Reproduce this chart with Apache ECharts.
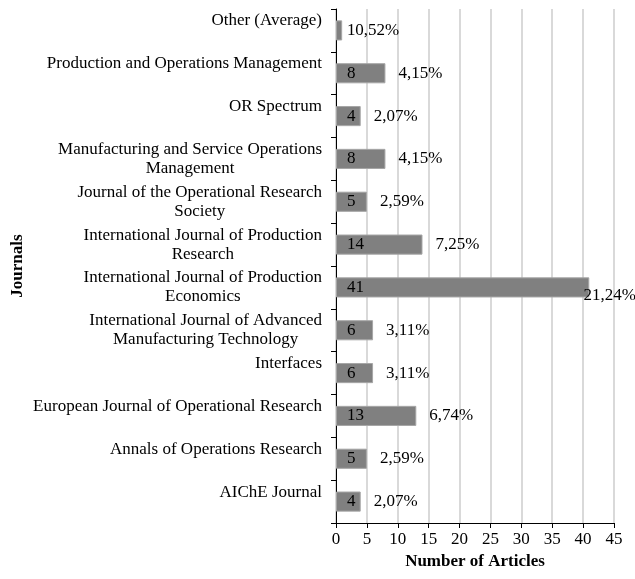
<!DOCTYPE html>
<html>
<head>
<meta charset="utf-8">
<script src="https://cdn.jsdelivr.net/npm/echarts@6/dist/echarts.min.js"></script>
<style>
  html, body { margin: 0; padding: 0; background: #fff; }
  #chart { width: 635px; height: 579px; }
</style>
</head>
<body>
<div id="chart"></div>
<script>
// journals, bottom to top (category axis starts at the bottom)
const journals = [
  'AIChE Journal',
  'Annals of Operations Research',
  'European Journal of Operational Research',
  'Interfaces',
  'International Journal of Advanced\nManufacturing Technology',
  'International Journal of Production\nEconomics',
  'International Journal of Production\nResearch',
  'Journal of the Operational Research\nSociety',
  'Manufacturing and Service Operations\nManagement',
  'OR Spectrum',
  'Production and Operations Management',
  'Other (Average)'
]
const articles = [4, 5, 13, 6, 6, 41, 14, 5, 8, 4, 8, 1]
const shares = ['2,07%', '2,59%', '6,74%', '3,11%', '3,11%', '21,24%', '7,25%', '2,59%', '4,15%', '2,07%', '4,15%', '0,52%']

const chart = echarts.init(document.getElementById('chart'))
const font = 'Liberation Serif'

const option = {
  backgroundColor: '#fff',
  animation: false,
  textStyle: { fontFamily: font },
  grid: { left: 336, right: 21, top: 9, bottom: 56 },
  xAxis: {
    type: 'value',
    min: 0,
    max: 45,
    interval: 5,
    name: 'Number of Articles',
    nameLocation: 'middle',
    nameGap: 30,
    nameTextStyle: { fontFamily: font, fontSize: 17, fontWeight: 'bold', color: '#000' },
    axisLine: { show: true, lineStyle: { color: '#000', width: 1 } },
    axisTick: { show: true, length: 5, lineStyle: { color: '#000' } },
    axisLabel: { fontFamily: font, fontSize: 17, color: '#000', margin: 8 },
    splitLine: { show: true, lineStyle: { color: '#d9d9d9', width: 2 } }
  },
  yAxis: {
    type: 'category',
    data: journals,
    name: 'Journals',
    nameLocation: 'middle',
    nameGap: 310,
    nameRotate: 90,
    nameTextStyle: { fontFamily: font, fontSize: 17, fontWeight: 'bold', color: '#000' },
    axisLine: { show: true, lineStyle: { color: '#000', width: 1 } },
    axisTick: { show: true, length: 5, lineStyle: { color: '#000' } },
    axisLabel: {
      fontFamily: font,
      fontSize: 17,
      color: '#000',
      margin: 14,
      lineHeight: 19,
      // lines centred within the block; single-line names sit on the upper line
      formatter: (v) => {
        const lines = v.split('\n')
        if (lines.length === 1) lines.push(' ')
        return lines.map(l => '{c|' + l + '}').join('\n')
      },
      rich: {
        c: { align: 'center', fontFamily: font, fontSize: 17, color: '#000', lineHeight: 19 }
      }
    }
  },
  series: [
    {
      name: 'Articles',
      type: 'bar',
      data: articles,
      barWidth: '47%',
      itemStyle: { color: '#808080', borderColor: '#a6a6a6', borderWidth: 1 },
      label: {
        show: true,
        position: 'insideLeft',
        distance: 11,
        fontFamily: font,
        fontSize: 17,
        color: '#000'
      },
      z: 2
    },
    {
      name: 'Share',
      type: 'bar',
      data: articles,
      barWidth: '47%',
      barGap: '-100%',
      itemStyle: { color: 'transparent' },
      label: {
        show: true,
        position: 'right',
        distance: 13,
        fontFamily: font,
        fontSize: 17,
        color: '#000',
        formatter: (p) => shares[p.dataIndex]
      },
      labelLayout: (params) => {
        const r = params.labelRect
        if (r.x + r.width > 636) return { x: 636 - r.width }
        return {}
      },
      z: 3
    }
  ]
}

chart.setOption(option)
</script>
</body>
</html>
